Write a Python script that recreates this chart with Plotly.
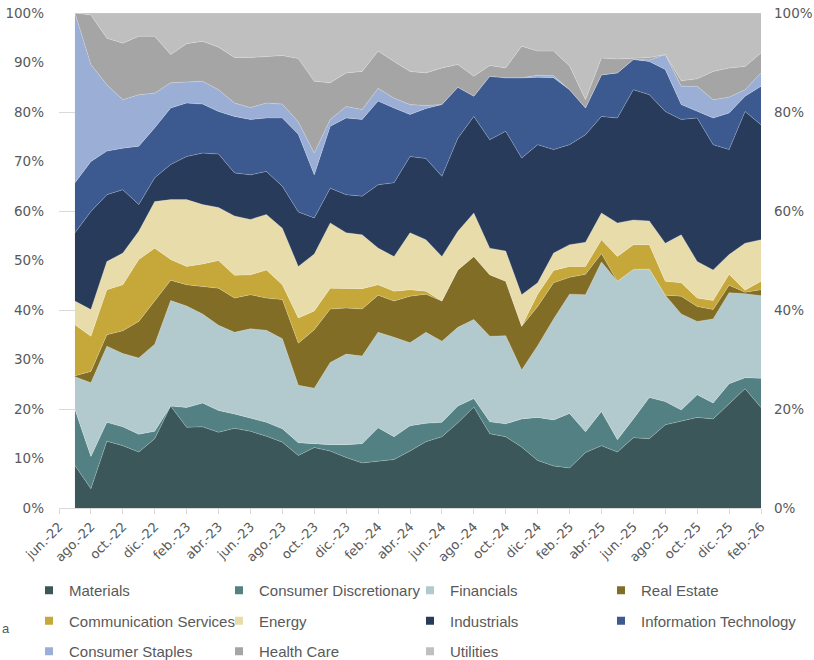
import plotly.graph_objects as go

# ---------------- data ----------------
months = [
    "jun.-22", "jul.-22", "ago.-22", "sep.-22", "oct.-22", "nov.-22", "dic.-22",
    "ene.-23", "feb.-23", "mar.-23", "abr.-23", "may.-23", "jun.-23", "jul.-23",
    "ago.-23", "sep.-23", "oct.-23", "nov.-23", "dic.-23",
    "ene.-24", "feb.-24", "mar.-24", "abr.-24", "may.-24", "jun.-24", "jul.-24",
    "ago.-24", "sep.-24", "oct.-24", "nov.-24", "dic.-24",
    "ene.-25", "feb.-25", "mar.-25", "abr.-25", "may.-25", "jun.-25", "jul.-25",
    "ago.-25", "sep.-25", "oct.-25", "nov.-25", "dic.-25",
    "ene.-26", "feb.-26",
]
# data exists from jul.-22 to feb.-26 (the jun.-22 category is empty)
data_months = months[1:]
tick_labels = months[::2]
left_ticks = list(range(0, 101, 10))
right_ticks = list(range(0, 101, 20))

materials = [8.6, 3.9, 13.5, 12.6, 11.3, 14.0, 20.6, 16.3, 16.4, 15.3, 16.1, 15.5, 14.5, 13.3, 10.6,
             12.2, 11.5, 10.2, 9.1, 9.4, 9.8, 11.5, 13.4, 14.4, 17.2, 20.4, 15.0, 14.4, 12.3, 9.6,
             8.5, 8.1, 11.2, 12.6, 11.3, 14.2, 14.0, 16.8, 17.5, 18.3, 18.0, 21.1, 24.1, 20.3]
cons_disc = [11.3, 6.5, 3.8, 3.8, 3.6, 1.5, 0.0, 4.0, 4.8, 4.4, 2.9, 2.6, 2.8, 2.7, 2.6,
             0.8, 1.3, 2.6, 3.9, 6.8, 4.6, 5.1, 3.7, 2.9, 3.4, 1.7, 2.4, 2.6, 5.7, 8.7,
             9.3, 11.0, 4.2, 6.9, 2.5, 3.8, 8.3, 4.7, 2.3, 4.6, 3.2, 4.0, 2.2, 5.9]
financials = [6.6, 14.9, 15.4, 14.8, 15.4, 17.6, 21.3, 20.5, 18.0, 17.2, 16.5, 18.1, 18.6, 18.2, 11.6,
              11.2, 16.6, 18.3, 17.7, 19.3, 20.1, 16.8, 18.4, 16.4, 15.9, 16.0, 17.3, 17.8, 9.9, 14.5,
              20.4, 24.1, 27.7, 30.2, 32.0, 30.2, 26.0, 21.5, 19.4, 14.8, 17.0, 18.4, 17.0, 16.7]
real_estate = [0.2, 2.3, 2.3, 4.6, 7.4, 8.7, 4.1, 4.3, 5.6, 7.5, 6.9, 6.9, 6.5, 7.9, 8.5,
               11.8, 10.8, 9.3, 9.5, 7.5, 7.3, 9.4, 7.7, 8.1, 11.6, 12.7, 12.4, 11.0, 8.8, 7.9,
               7.3, 3.4, 4.1, 1.7, 0.0, 0.0, 0.0, 0.0, 3.6, 3.0, 1.9, 1.5, 0.3, 1.2]
comm_services = [10.3, 7.1, 9.1, 9.3, 12.5, 10.7, 4.2, 3.7, 4.5, 5.6, 4.6, 4.0, 5.7, 3.0, 5.1,
                 3.8, 4.2, 4.0, 4.1, 2.1, 2.0, 1.3, 0.6, 0.0, 0.0, 0.0, 0.0, 0.0, 0.0, 2.5,
                 2.5, 2.2, 1.6, 2.8, 5.0, 5.0, 4.9, 2.8, 2.7, 1.7, 1.8, 2.2, 0.4, 1.7]
energy = [4.8, 5.4, 5.7, 6.4, 5.7, 9.4, 12.1, 13.5, 12.0, 10.7, 12.0, 11.2, 11.2, 11.4, 10.4,
          11.5, 13.2, 11.2, 10.9, 7.4, 7.0, 11.5, 10.4, 9.0, 7.8, 8.8, 5.4, 6.1, 6.4, 2.3,
          3.5, 4.4, 4.9, 5.4, 6.8, 5.0, 4.8, 7.7, 9.7, 7.4, 6.2, 4.0, 9.5, 8.4]
industrials = [13.8, 19.8, 13.5, 12.8, 5.4, 4.8, 7.1, 8.7, 10.4, 10.8, 8.7, 9.0, 8.7, 8.5, 11.0,
               7.3, 7.0, 7.7, 7.8, 12.8, 14.9, 15.4, 16.4, 16.2, 18.8, 19.5, 21.9, 24.2, 27.6, 27.9,
               20.9, 20.2, 21.7, 19.5, 21.2, 26.3, 25.5, 26.6, 23.3, 29.0, 25.3, 21.2, 26.6, 23.2]
info_tech = [10.1, 10.1, 8.8, 8.4, 11.8, 10.1, 11.4, 10.8, 9.9, 8.6, 11.4, 11.2, 10.8, 13.8, 15.7,
             8.7, 12.5, 15.5, 15.5, 16.9, 15.1, 8.5, 10.1, 14.5, 10.3, 4.1, 12.8, 10.8, 16.2, 13.6,
             14.5, 11.1, 5.4, 8.4, 9.1, 6.1, 6.7, 8.5, 3.0, 1.3, 5.4, 7.4, 3.1, 7.8]
cons_staples = [34.3, 19.6, 13.4, 9.8, 10.4, 7.0, 5.1, 4.3, 4.6, 4.4, 2.7, 2.4, 3.0, 2.8, 2.5,
                4.4, 1.4, 2.3, 2.0, 2.6, 2.0, 2.0, 0.6, 0.0, 0.0, 0.0, 0.0, 0.0, 0.0, 0.4,
                0.4, 0.0, 0.0, 0.0, 0.0, 0.0, 0.3, 3.0, 3.7, 5.1, 3.7, 3.2, 1.3, 2.7]
health_care = [0.0, 10.0, 9.4, 11.4, 11.8, 11.5, 5.7, 7.7, 8.1, 8.6, 9.2, 10.1, 9.4, 9.8, 12.8,
               14.5, 7.4, 6.8, 7.7, 7.5, 7.4, 6.7, 6.6, 7.4, 4.6, 4.0, 2.2, 2.0, 6.4, 4.9,
               5.0, 4.8, 1.7, 3.4, 2.8, 0.3, 0.5, 0.0, 1.1, 1.5, 5.7, 5.9, 4.7, 4.0]
utilities = [0.0, 0.4, 5.1, 6.1, 4.7, 4.7, 8.4, 6.2, 5.7, 6.9, 9.0, 9.0, 8.8, 8.6, 9.2,
             13.8, 14.1, 12.1, 11.8, 7.7, 9.8, 11.8, 12.1, 11.1, 10.4, 12.8, 10.6, 11.1, 6.7, 7.7,
             7.7, 10.7, 17.5, 9.1, 9.3, 9.1, 9.0, 8.4, 13.7, 13.3, 11.8, 11.1, 10.8, 8.1]

series_names = ["Materials", "Consumer Discretionary", "Financials", "Real Estate",
                "Communication Services", "Energy", "Industrials", "Information Technology",
                "Consumer Staples", "Health Care", "Utilities"]
series_values = [materials, cons_disc, financials, real_estate, comm_services, energy,
                 industrials, info_tech, cons_staples, health_care, utilities]
series_colors = ["#3B5759", "#538083", "#B2CACE", "#826D26", "#C5A73A", "#E8DCAB",
                 "#283B5B", "#3C5A8F", "#9BAFD6", "#A5A5A5", "#BFBFBF"]

# legend layout (columns like the original legend)
legend_columns = [
    ["Materials", "Communication Services", "Consumer Staples"],
    ["Consumer Discretionary", "Energy", "Health Care"],
    ["Financials", "Industrials", "Utilities"],
    ["Real Estate", "Information Technology"],
]

# ---------------- figure ----------------
fig = go.Figure()

for i, (name, vals, col) in enumerate(zip(series_names, series_values, series_colors)):
    fig.add_trace(go.Scatter(
        x=data_months, y=vals, name=name,
        stackgroup="one", groupnorm="percent" if i == 0 else None,
        mode="lines",
        line=dict(width=0.7, color="rgba(255,255,255,0.30)"),
        fillcolor=col, showlegend=False,
    ))

color_of = dict(zip(series_names, series_colors))
legend_ids = ["legend", "legend2", "legend3", "legend4"]
for lid, names in zip(legend_ids, legend_columns):
    for name in names:
        fig.add_trace(go.Scatter(
            x=[None], y=[None], mode="markers", name=name,
            marker=dict(symbol="square", size=8, color=color_of[name]),
            legend=lid, legendgroup=name, yaxis="y2", hoverinfo="skip",
        ))

axis_font = dict(family="DejaVu Sans, Verdana, sans-serif", size=13.5, color="#595959")
legend_font = dict(family="Liberation Sans, Arial, sans-serif", size=15, color="#595959")

W, H = 814, 660
# plot box in window pixels: x 59..761, y 13..508
L, T = 59, 13
R = W - 761
B = H - 508
pw, ph = W - L - R, H - T - B


def px_x(px):
    """window pixel x -> paper coordinate"""
    return (px - L) / pw


def px_y(py):
    """window pixel y -> paper coordinate"""
    return (H - B - py) / ph


legend_common = dict(orientation="v", font=legend_font, tracegroupgap=8,
                     traceorder="grouped", bgcolor="rgba(0,0,0,0)",
                     xanchor="left", yanchor="top", itemclick=False, itemdoubleclick=False)
legend_left_px = [29, 219, 410, 601]
legends = {}
for lid, lx in zip(legend_ids, legend_left_px):
    legends[lid] = dict(legend_common, x=px_x(lx), y=px_y(574))

fig.update_layout(
    width=W, height=H,
    margin=dict(l=L, r=R, t=T, b=B, autoexpand=False),
    paper_bgcolor="white", plot_bgcolor="white",
    showlegend=True, hovermode=False,
    xaxis=dict(
        type="category", categoryorder="array", categoryarray=months,
        range=[0, len(months) - 1], automargin=False,
        tickmode="array", tickvals=tick_labels, ticktext=tick_labels,
        tickangle=-45, ticks="outside", ticklen=5, tickcolor="#D9D9D9",
        showline=True, linecolor="#D9D9D9", linewidth=1,
        showgrid=False, zeroline=False, tickfont=dict(axis_font, size=13),
    ),
    yaxis=dict(
        range=[0, 100], tickmode="array", tickvals=left_ticks,
        ticktext=[f"{v}%" for v in left_ticks], automargin=False,
        showgrid=False, zeroline=False, showline=False,
        ticks="", ticklabelstandoff=14, tickfont=axis_font,
    ),
    yaxis2=dict(
        range=[0, 100], overlaying="y", side="right", automargin=False,
        tickmode="array", tickvals=right_ticks, ticktext=[f"{v}%" for v in right_ticks],
        showgrid=True, gridcolor="#D9D9D9", gridwidth=1, zeroline=False,
        showline=False, ticks="", ticklabelstandoff=12, tickfont=axis_font,
    ),
    **legends,
    annotations=[dict(text="a", xref="paper", yref="paper", x=px_x(0), y=px_y(628),
                      xanchor="left", yanchor="middle", showarrow=False,
                      font=dict(family="Liberation Sans, Arial, sans-serif", size=13, color="#595959"))],
)

# place the figure at the window's top-left corner (no default page margin)
fig.write_html("out.html", config={"displayModeBar": False, "staticPlot": True},
               post_script="document.body.style.margin='0';")
